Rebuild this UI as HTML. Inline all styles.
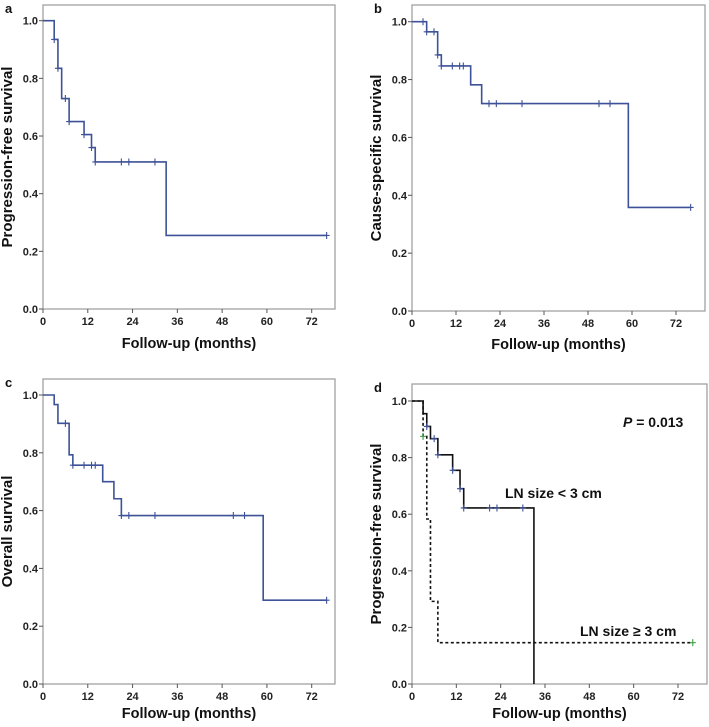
<!DOCTYPE html>
<html><head><meta charset="utf-8"><style>
html,body{margin:0;padding:0;background:#fff;}
svg{display:block;font-family:"Liberation Sans",Arial,sans-serif;}
</style></head><body>
<svg id="fig" width="709" height="727" viewBox="0 0 709 727"></svg>
<script>
// ---- data ----
const xTicks = [0,12,24,36,48,60,72];
const yTicks = [0,0.2,0.4,0.6,0.8,1.0];
const aTimes = [0,3,4,5,7,11,13,14,33,76];
const aSurv  = [1,0.935,0.835,0.73,0.65,0.605,0.56,0.51,0.255,0.255];
const aCensT = [3,4,6,7,11,13,14,21,23,30,76];
const aCensS = [0.935,0.835,0.73,0.65,0.605,0.56,0.51,0.51,0.51,0.51,0.255];
const bTimes = [0,4,7,8,16,19,59,76];
const bSurv  = [1,0.965,0.885,0.847,0.782,0.717,0.358,0.358];
const bCensT = [3,4,6,7,8,11,13,14,21,23,30,51,54,76];
const bCensS = [1,0.965,0.965,0.885,0.847,0.847,0.847,0.847,0.717,0.717,0.717,0.717,0.717,0.358];
const cTimes = [0,3,4,7,8,16,19,21,59,76];
const cSurv  = [1,0.967,0.902,0.793,0.757,0.70,0.641,0.583,0.29,0.29];
const cCensT = [6,8,11,13,14,21,23,30,51,54,76];
const cCensS = [0.902,0.757,0.757,0.757,0.757,0.583,0.583,0.583,0.583,0.583,0.29];
const dSmallTimes = [0,3,4,5,7,11,13,14,33,33];
const dSmallSurv  = [1,0.955,0.91,0.867,0.81,0.755,0.69,0.622,0,0];
const dSmallCensT = [4,6,7,11,13,14,21,23,30];
const dSmallCensS = [0.91,0.867,0.81,0.755,0.69,0.622,0.622,0.622,0.622];
const dLargeTimes = [0,3,4,5,7,76];
const dLargeSurv  = [1,0.875,0.583,0.292,0.146,0.146];
const dLargeCensT = [3,76];
const dLargeCensS = [0.875,0.146];

const NS="http://www.w3.org/2000/svg";
const svg=document.getElementById('fig');
function mk(tag,attrs,parent){const e=document.createElementNS(NS,tag);for(const k in attrs)e.setAttribute(k,attrs[k]);(parent||svg).appendChild(e);return e;}

function panel(p){
  const g=mk('g',{});
  
  
  const sx=t=>p.x0+(p.x72-p.x0)*t/72;
  const sy=v=>p.y0+(p.y1-p.y0)*v;
  const box=mk('rect',{x:p.L,y:p.T,width:p.R-p.L,height:p.B-p.T,fill:'none',stroke:'#9a9a9a','stroke-width':1.2},g);
  
  
  const lt=mk('text',{x:p.L-38,y:p.T+8,'font-size':13,'font-weight':'bold',fill:'#111'},g);
  lt.textContent=p.letter;
  
  
  xTicks.forEach(t=>{
    mk('line',{x1:sx(t),x2:sx(t),y1:p.B,y2:p.B+4,stroke:'#555'},g);
    const tx=mk('text',{x:sx(t),y:p.B+16,'font-size':11,'font-weight':'bold','text-anchor':'middle',fill:'#222'},g);
    tx.textContent=t;
    
    
  });
  yTicks.forEach(v=>{
    mk('line',{x1:p.L-4,x2:p.L,y1:sy(v),y2:sy(v),stroke:'#555'},g);
    const ty=mk('text',{x:p.L-5,y:sy(v)+4,'font-size':11,'font-weight':'bold','text-anchor':'end',fill:'#222'},g);
    ty.textContent=v.toFixed(1);
    
    
  });
  const xt=mk('text',{x:(p.L+p.R)/2,y:p.B+p.xtOff,'font-size':14.5,'font-weight':'bold','text-anchor':'middle',fill:'#111'},g);
  xt.textContent='Follow-up (months)';
  
  
  const cy=(p.T+p.B)/2;
  const yt=mk('text',{x:0,y:0,transform:`translate(${p.L-31},${cy}) rotate(-90)`,'font-size':15,'font-weight':'bold','text-anchor':'middle',fill:'#111'},g);
  yt.textContent=p.ytitle;
  
  
  p.series.forEach(s=>{
    let d=`M${sx(s.t[0])},${sy(s.s[0])}`;
    for(let i=1;i<s.t.length;i++){d+=` H${sx(s.t[i])} V${sy(s.s[i])}`;}
    const path=mk('path',{d:d,fill:'none',stroke:s.color,'stroke-width':1.6,'stroke-dasharray':s.dash||'none'},g);
    
    
    s.ct.forEach((t,i)=>{
      const X=sx(t),Y=sy(s.cs[i]);
      const c=mk('path',{d:`M${X-3},${Y} H${X+3} M${X},${Y-3.5} V${Y+3.5}`,stroke:s.ccolor,'stroke-width':1.1},g);
      
      
    });
  });
  return {g,sx,sy};
}
const blue='#3d5298';
panel({letter:'a',L:43,R:335,T:5,B:309,x0:43,x72:311.7,y0:309,y1:20.7,xtOff:39,ytitle:'Progression-free survival',
  series:[{t:aTimes,s:aSurv,ct:aCensT,cs:aCensS,color:blue,ccolor:blue,name:'pfs-curve'}]});
panel({letter:'b',L:412,R:705,T:5,B:311,x0:412,x72:676,y0:311,y1:21.7,xtOff:38,ytitle:'Cause-specific survival',
  series:[{t:bTimes,s:bSurv,ct:bCensT,cs:bCensS,color:blue,ccolor:blue,name:'css-curve'}]});
panel({letter:'c',L:43,R:335,T:379,B:684,x0:43,x72:311.7,y0:684,y1:395,xtOff:34,ytitle:'Overall survival',
  series:[{t:cTimes,s:cSurv,ct:cCensT,cs:cCensS,color:blue,ccolor:blue,name:'os-curve'}]});
const pd=panel({letter:'d',L:412,R:707,T:384,B:684,x0:412,x72:678,y0:684,y1:401,xtOff:34,ytitle:'Progression-free survival',
  series:[{t:dSmallTimes,s:dSmallSurv,ct:dSmallCensT,cs:dSmallCensS,color:'#111',ccolor:blue,name:'ln-small-curve'},
          {t:dLargeTimes,s:dLargeSurv,ct:dLargeCensT,cs:dLargeCensS,color:'#111',ccolor:'#3aa040',dash:'3,2.5',name:'ln-large-curve'}]});
function lab(x,y,txt,name){const e=mk('text',{x:x,y:y,'font-size':14,'font-weight':'bold',fill:'#111'},pd.g);e.innerHTML=txt;
  
  }
lab(623,427,'<tspan font-style="italic">P</tspan> = 0.013','p-value');
lab(505,498,'LN size &lt; 3 cm','label-ln-small');
lab(580,636,'LN size ≥ 3 cm','label-ln-large');
</script>
</body></html>
